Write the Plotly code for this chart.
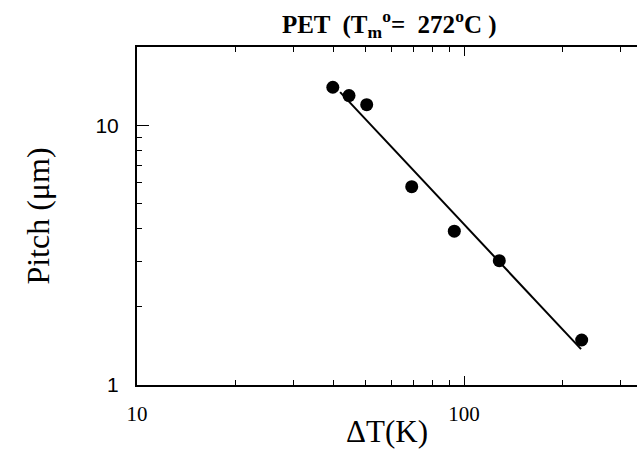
import plotly.graph_objects as go

# Data (log-log)
delta_T = [39.7, 44.5, 50.4, 69.2, 93.4, 128.2, 229.0]
pitch = [14.0, 13.0, 12.0, 5.8, 3.91, 3.01, 1.49]

fit_x = [41.8, 228.0]
fit_y = [13.4, 1.375]

x_tickvals = [10, 100]
x_ticktext = ["10", "100"]
x_minor = [20, 30, 40, 50, 60, 70, 80, 90, 200, 300]
y_tickvals = [1, 10]
y_ticktext = ["1", "10"]
y_minor = [2, 3, 4, 5, 6, 7, 8, 9]

fig = go.Figure()
fig.add_trace(go.Scatter(x=fit_x, y=fit_y, mode="lines",
                         line=dict(color="black", width=2), showlegend=False))
fig.add_trace(go.Scatter(x=delta_T, y=pitch, mode="markers",
                         marker=dict(color="black", size=13, symbol="circle"),
                         showlegend=False))

fig.update_layout(
    width=637, height=449,
    margin=dict(l=137, r=0, t=47, b=64, autoexpand=False),
    paper_bgcolor="white", plot_bgcolor="white",
    title=dict(text="<b>PET  (T<sub>m</sub><sup>o</sup>=  272<sup>o</sup>C )</b>",
               x=0.611, xanchor="center", y=0.947, yanchor="middle",
               font=dict(family="Liberation Serif", size=25, color="black")),
    xaxis=dict(type="log", range=[1, 2.529], automargin=False,
               tickvals=x_tickvals, ticktext=x_ticktext,
               ticks="inside", ticklen=9, tickwidth=1, tickcolor="black",
               minor=dict(tickvals=x_minor, ticks="inside", ticklen=5, tickcolor="black"),
               showline=True, linecolor="black", linewidth=2, mirror="ticks",
               showgrid=False, zeroline=False,
               tickfont=dict(family="Liberation Serif", size=21, color="black"),
               ticklabelstandoff=9,
               title=dict(text="\u0394T(K)", standoff=12,
                          font=dict(family="Liberation Serif", size=31, color="black"))),
    yaxis=dict(type="log", range=[0, 1.301], automargin=False,
               tickvals=y_tickvals, ticktext=y_ticktext,
               ticks="inside", ticklen=12, tickwidth=1, tickcolor="black",
               minor=dict(tickvals=y_minor, ticks="inside", ticklen=5, tickcolor="black"),
               showline=True, linecolor="black", linewidth=2,
               showgrid=False, zeroline=False,
               tickfont=dict(family="Liberation Sans", size=21, color="black"),
               ticklabelstandoff=12,
               title=dict(text="Pitch (\u03bcm)", standoff=36,
                          font=dict(family="Liberation Serif", size=32, color="black"))),
)

fig.write_html("out.html",
               config={"displayModeBar": False},
               post_script="document.body.style.margin='0';"
                           "document.body.style.overflow='hidden';")
